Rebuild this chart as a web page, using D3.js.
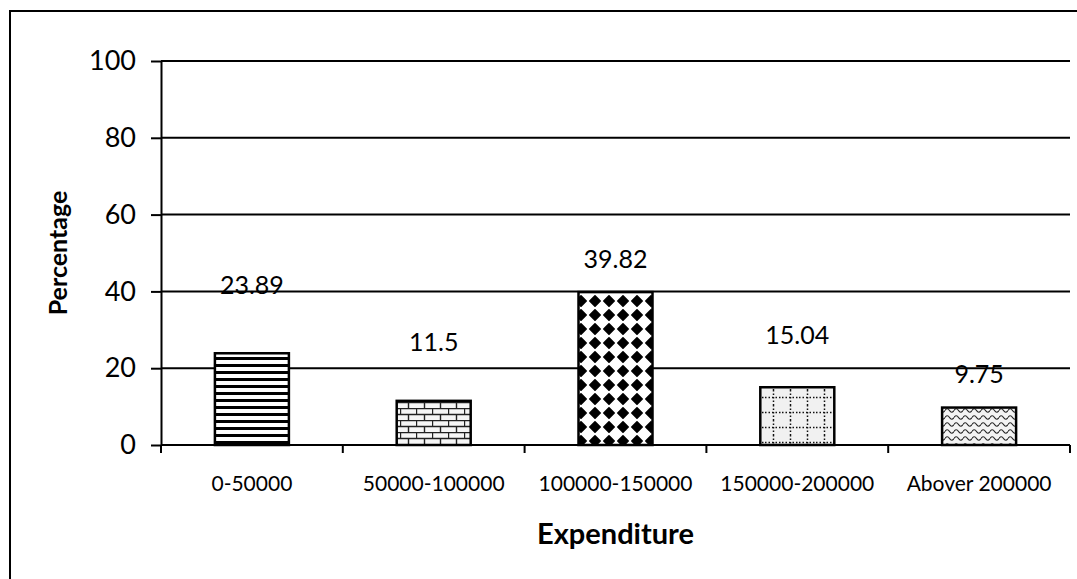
<!DOCTYPE html>
<html>
<head>
<meta charset="utf-8">
<script src="https://cdn.jsdelivr.net/npm/d3@7"></script>
<style>
  html, body { margin: 0; padding: 0; background: #fff; }
  svg { display: block; font-family: Lato, "Open Sans", sans-serif; }
</style>
</head>
<body>
<svg id="chart" width="1077" height="579"></svg>
<script>
// Share of households by yearly expenditure band
const categories = ["0-50000", "50000-100000", "100000-150000", "150000-200000", "Abover 200000"];
const percentages = [23.89, 11.5, 39.82, 15.04, 9.75];
const yTicks = [0, 20, 40, 60, 80, 100];

// Per-bar fill pattern and how far each value label sits above its bar (px)
const fills = ["stripes", "bricks", "diamonds", "dotgrid", "waves"];
const labelLift = [59, 50, 24, 43, 25];

const svg = d3.select("#chart");
const W = 1077, H = 579;
const plot = { left: 161, right: 1070, top: 61, bottom: 445 };

// ---- fill patterns ----
const defs = svg.append("defs");

const stripes = defs.append("pattern").attr("id", "stripes")
  .attr("patternUnits", "userSpaceOnUse").attr("width", 8).attr("height", 7);
stripes.append("rect").attr("width", 8).attr("height", 7).attr("fill", "#fff");
stripes.append("rect").attr("y", 0).attr("width", 8).attr("height", 3).attr("fill", "#000");

const bricks = defs.append("pattern").attr("id", "bricks")
  .attr("patternUnits", "userSpaceOnUse").attr("width", 16).attr("height", 12);
bricks.append("rect").attr("width", 16).attr("height", 12).attr("fill", "#f6f6f6");
bricks.append("path")
  .attr("d", "M0,0.5H16M0,6.5H16M0.5,0V6.5M8.5,6.5V12")
  .attr("stroke", "#222").attr("stroke-width", 1.4).attr("fill", "none");

const diamonds = defs.append("pattern").attr("id", "diamonds")
  .attr("patternUnits", "userSpaceOnUse").attr("width", 14).attr("height", 14);
diamonds.append("rect").attr("width", 14).attr("height", 14).attr("fill", "#fff");
diamonds.append("path")
  .attr("d", "M7,1.8L12.2,7L7,12.2L1.8,7Z")
  .attr("fill", "#000").attr("stroke", "#000").attr("stroke-width", 1.6)
  .attr("stroke-linejoin", "round");

const dotgrid = defs.append("pattern").attr("id", "dotgrid")
  .attr("patternUnits", "userSpaceOnUse").attr("width", 17).attr("height", 15);
dotgrid.append("rect").attr("width", 17).attr("height", 15).attr("fill", "#f1f1f1");
dotgrid.append("path")
  .attr("d", "M0,7.5H17M8.5,0V15")
  .attr("stroke", "#111").attr("stroke-width", 1.5)
  .attr("stroke-dasharray", "1.5 2").attr("fill", "none");

const waves = defs.append("pattern").attr("id", "waves")
  .attr("patternUnits", "userSpaceOnUse").attr("width", 9).attr("height", 7);
waves.append("rect").attr("width", 9).attr("height", 7).attr("fill", "#f3f3f3");
waves.append("path")
  .attr("d", "M0,4.5 Q2.25,1 4.5,4.5 T9,4.5")
  .attr("stroke", "#222").attr("stroke-width", 1.2).attr("fill", "none");

// ---- scales ----
const x = d3.scaleBand()
  .domain(categories)
  .range([plot.left, plot.right])
  .paddingInner(0.593)
  .paddingOuter(0.593 / 2);

const y = d3.scaleLinear()
  .domain([0, 100])
  .range([plot.bottom, plot.top]);

// ---- outer frame ----
svg.append("rect")
  .attr("x", 10).attr("y", 11)
  .attr("width", W + 40).attr("height", H + 40)
  .attr("fill", "none").attr("stroke", "#000").attr("stroke-width", 2);

// ---- horizontal gridlines ----
svg.append("g")
  .selectAll("line")
  .data(yTicks.filter(t => t > 0))
  .join("line")
  .attr("x1", plot.left).attr("x2", plot.right)
  .attr("y1", d => y(d)).attr("y2", d => y(d))
  .attr("stroke", "#000").attr("stroke-width", 2);

// ---- bars ----
svg.append("g")
  .selectAll("rect")
  .data(categories)
  .join("rect")
  .attr("x", d => x(d))
  .attr("y", (d, i) => y(percentages[i]))
  .attr("width", x.bandwidth())
  .attr("height", (d, i) => y(0) - y(percentages[i]))
  .attr("fill", (d, i) => `url(#${fills[i]})`)
  .attr("stroke", "#000").attr("stroke-width", 2.5);

// ---- y axis ----
const yAxis = svg.append("g")
  .attr("transform", `translate(${plot.left},0)`)
  .call(d3.axisLeft(y).tickValues(yTicks).tickSize(10).tickPadding(15).tickSizeOuter(0));
yAxis.select(".domain").attr("stroke", "#000").attr("stroke-width", 2);
yAxis.selectAll(".tick line").attr("stroke", "#000").attr("stroke-width", 2);
yAxis.selectAll(".tick text")
  .attr("font-family", "Lato, 'Open Sans', sans-serif")
  .attr("font-size", 27).attr("fill", "#000");

// ---- x axis (ticks sit on band boundaries) ----
const xAxisG = svg.append("g").attr("transform", `translate(0,${plot.bottom})`);
xAxisG.append("line")
  .attr("x1", plot.left).attr("x2", plot.right)
  .attr("stroke", "#000").attr("stroke-width", 2);
const boundaries = categories.map(c => x(c) - x.step() * x.paddingInner() / 2)
  .concat([plot.right]);
xAxisG.selectAll("line.tick")
  .data(boundaries)
  .join("line").attr("class", "tick")
  .attr("x1", d => d).attr("x2", d => d)
  .attr("y1", 0).attr("y2", 8)
  .attr("stroke", "#000").attr("stroke-width", 2);
xAxisG.selectAll("text")
  .data(categories)
  .join("text")
  .attr("x", d => x(d) + x.bandwidth() / 2)
  .attr("y", 46)
  .attr("text-anchor", "middle")
  .attr("font-size", 21).attr("fill", "#000")
  .text(d => d);

// ---- value labels ----
svg.append("g")
  .selectAll("text")
  .data(categories)
  .join("text")
  .attr("x", d => x(d) + x.bandwidth() / 2)
  .attr("y", (d, i) => y(percentages[i]) - labelLift[i])
  .attr("text-anchor", "middle")
  .attr("font-size", 25).attr("fill", "#000")
  .text((d, i) => percentages[i]);

// ---- axis titles ----
svg.append("text")
  .attr("x", (plot.left + plot.right) / 2)
  .attr("y", 544)
  .attr("text-anchor", "middle")
  .attr("font-size", 29).attr("font-weight", "bold").attr("fill", "#000")
  .text("Expenditure");

svg.append("text")
  .attr("transform", `translate(67,${(plot.top + plot.bottom) / 2}) rotate(-90)`)
  .attr("text-anchor", "middle")
  .attr("font-size", 25).attr("font-weight", "bold").attr("fill", "#000")
  .text("Percentage");
</script>
</body>
</html>
